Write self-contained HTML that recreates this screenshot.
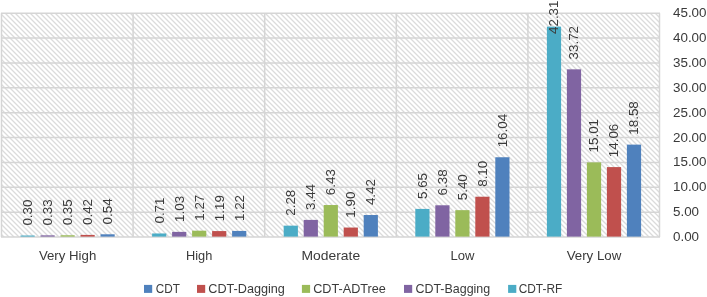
<!DOCTYPE html><html><head><meta charset="utf-8"><style>
html,body{margin:0;padding:0;background:#fff;overflow:hidden}svg{display:block;will-change:transform}
text{font-family:"Liberation Sans",sans-serif;fill:#3a3a3a;font-size:13.4px;stroke:#3a3a3a;stroke-width:0px}
</style></head><body>
<svg width="707" height="297" viewBox="0 0 707 297">
<defs><pattern id="h" width="5" height="5" patternUnits="userSpaceOnUse" x="2" y="0" shape-rendering="crispEdges"><g fill="#dbdbdb"><rect x="0" y="0" width="1" height="1"/><rect x="1" y="1" width="1" height="1"/><rect x="2" y="2" width="1" height="1"/><rect x="3" y="3" width="1" height="1"/><rect x="4" y="4" width="1" height="1"/></g><g fill="#efefef"><rect x="1" y="0" width="1" height="1"/><rect x="2" y="1" width="1" height="1"/><rect x="3" y="2" width="1" height="1"/><rect x="4" y="3" width="1" height="1"/><rect x="0" y="4" width="1" height="1"/><rect x="4" y="0" width="1" height="1"/><rect x="0" y="1" width="1" height="1"/><rect x="1" y="2" width="1" height="1"/><rect x="2" y="3" width="1" height="1"/><rect x="3" y="4" width="1" height="1"/></g></pattern></defs>
<rect x="1.50" y="13.25" width="658.00" height="223.75" fill="url(#h)"/>
<path d="M1.00,13.25H660.00M1.00,38.11H660.00M1.00,62.97H660.00M1.00,87.83H660.00M1.00,112.69H660.00M1.00,137.56H660.00M1.00,162.42H660.00M1.00,187.28H660.00M1.00,212.14H660.00M1.00,237.00H660.00M1.50,13.25V237.00M133.10,13.25V237.00M264.70,13.25V237.00M396.30,13.25V237.00M527.90,13.25V237.00M659.50,13.25V237.00" stroke="#d5d5d5" stroke-width="1.5" fill="none"/>
<rect x="20.50" y="235.51" width="14.20" height="1.09" fill="#4BACC6"/>
<rect x="40.50" y="235.36" width="14.20" height="1.24" fill="#8064A2"/>
<rect x="60.50" y="235.26" width="14.20" height="1.34" fill="#9BBB59"/>
<rect x="80.50" y="234.91" width="14.20" height="1.69" fill="#C0504D"/>
<rect x="100.50" y="234.31" width="14.20" height="2.28" fill="#4F81BD"/>
<rect x="152.10" y="233.47" width="14.20" height="3.13" fill="#4BACC6"/>
<rect x="172.10" y="231.88" width="14.20" height="4.72" fill="#8064A2"/>
<rect x="192.10" y="230.69" width="14.20" height="5.91" fill="#9BBB59"/>
<rect x="212.10" y="231.08" width="14.20" height="5.52" fill="#C0504D"/>
<rect x="232.10" y="230.93" width="14.20" height="5.67" fill="#4F81BD"/>
<rect x="283.70" y="225.66" width="14.20" height="10.94" fill="#4BACC6"/>
<rect x="303.70" y="219.90" width="14.20" height="16.70" fill="#8064A2"/>
<rect x="323.70" y="205.03" width="14.20" height="31.57" fill="#9BBB59"/>
<rect x="343.70" y="227.55" width="14.20" height="9.05" fill="#C0504D"/>
<rect x="363.70" y="215.02" width="14.20" height="21.58" fill="#4F81BD"/>
<rect x="415.30" y="208.91" width="14.20" height="27.69" fill="#4BACC6"/>
<rect x="435.30" y="205.28" width="14.20" height="31.32" fill="#8064A2"/>
<rect x="455.30" y="210.15" width="14.20" height="26.45" fill="#9BBB59"/>
<rect x="475.30" y="196.72" width="14.20" height="39.88" fill="#C0504D"/>
<rect x="495.30" y="157.25" width="14.20" height="79.35" fill="#4F81BD"/>
<rect x="546.90" y="26.63" width="14.20" height="209.97" fill="#4BACC6"/>
<rect x="566.90" y="69.34" width="14.20" height="167.26" fill="#8064A2"/>
<rect x="586.90" y="162.37" width="14.20" height="74.23" fill="#9BBB59"/>
<rect x="606.90" y="167.09" width="14.20" height="69.51" fill="#C0504D"/>
<rect x="626.90" y="144.62" width="14.20" height="91.98" fill="#4F81BD"/>
<text transform="translate(31.90,225.61) rotate(-90)">0.30</text>
<text transform="translate(51.90,225.46) rotate(-90)">0.33</text>
<text transform="translate(71.90,225.36) rotate(-90)">0.35</text>
<text transform="translate(91.90,225.01) rotate(-90)">0.42</text>
<text transform="translate(111.90,224.41) rotate(-90)">0.54</text>
<text transform="translate(163.50,223.57) rotate(-90)">0.71</text>
<text transform="translate(183.50,221.98) rotate(-90)">1.03</text>
<text transform="translate(203.50,220.79) rotate(-90)">1.27</text>
<text transform="translate(223.50,221.18) rotate(-90)">1.19</text>
<text transform="translate(243.50,221.03) rotate(-90)">1.22</text>
<text transform="translate(295.10,215.76) rotate(-90)">2.28</text>
<text transform="translate(315.10,210.00) rotate(-90)">3.44</text>
<text transform="translate(335.10,195.13) rotate(-90)">6.43</text>
<text transform="translate(355.10,217.65) rotate(-90)">1.90</text>
<text transform="translate(375.10,205.12) rotate(-90)">4.42</text>
<text transform="translate(426.70,199.01) rotate(-90)">5.65</text>
<text transform="translate(446.70,195.38) rotate(-90)">6.38</text>
<text transform="translate(466.70,200.25) rotate(-90)">5.40</text>
<text transform="translate(486.70,186.82) rotate(-90)">8.10</text>
<text transform="translate(506.70,147.35) rotate(-90)">16.04</text>
<text transform="translate(558.30,34.00) rotate(-90)">42.31</text>
<text transform="translate(578.30,59.44) rotate(-90)">33.72</text>
<text transform="translate(598.30,152.47) rotate(-90)">15.01</text>
<text transform="translate(618.30,157.19) rotate(-90)">14.06</text>
<text transform="translate(638.30,134.72) rotate(-90)">18.58</text>
<text x="673" y="236.30" dy="0.35em">0.00</text>
<text x="673" y="211.44" dy="0.35em">5.00</text>
<text x="673" y="186.58" dy="0.35em">10.00</text>
<text x="673" y="161.72" dy="0.35em">15.00</text>
<text x="673" y="136.86" dy="0.35em">20.00</text>
<text x="673" y="111.99" dy="0.35em">25.00</text>
<text x="673" y="87.13" dy="0.35em">30.00</text>
<text x="673" y="62.27" dy="0.35em">35.00</text>
<text x="673" y="37.41" dy="0.35em">40.00</text>
<text x="673" y="12.55" dy="0.35em">45.00</text>
<text x="67.60" y="260.4" text-anchor="middle" textLength="57.3" lengthAdjust="spacingAndGlyphs">Very High</text>
<text x="199.20" y="260.4" text-anchor="middle" textLength="26.3" lengthAdjust="spacingAndGlyphs">High</text>
<text x="330.80" y="260.4" text-anchor="middle" textLength="58.6" lengthAdjust="spacingAndGlyphs">Moderate</text>
<text x="462.40" y="260.4" text-anchor="middle" textLength="24.0" lengthAdjust="spacingAndGlyphs">Low</text>
<text x="594.00" y="260.4" text-anchor="middle" textLength="54.7" lengthAdjust="spacingAndGlyphs">Very Low</text>
<rect x="144.0" y="284.9" width="8.2" height="8" fill="#4F81BD"/>
<text x="155.8" y="292.80" textLength="24.1" lengthAdjust="spacingAndGlyphs">CDT</text>
<rect x="197.0" y="284.9" width="8.2" height="8" fill="#C0504D"/>
<text x="208.3" y="292.80" textLength="76.6" lengthAdjust="spacingAndGlyphs">CDT-Dagging</text>
<rect x="301.9" y="284.9" width="8.2" height="8" fill="#9BBB59"/>
<text x="313.2" y="292.80" textLength="72.7" lengthAdjust="spacingAndGlyphs">CDT-ADTree</text>
<rect x="404.0" y="284.9" width="8.2" height="8" fill="#8064A2"/>
<text x="415.4" y="292.80" textLength="74.8" lengthAdjust="spacingAndGlyphs">CDT-Bagging</text>
<rect x="508.1" y="284.9" width="8.2" height="8" fill="#4BACC6"/>
<text x="518.7" y="292.80" textLength="43.6" lengthAdjust="spacingAndGlyphs">CDT-RF</text>
</svg></body></html>
